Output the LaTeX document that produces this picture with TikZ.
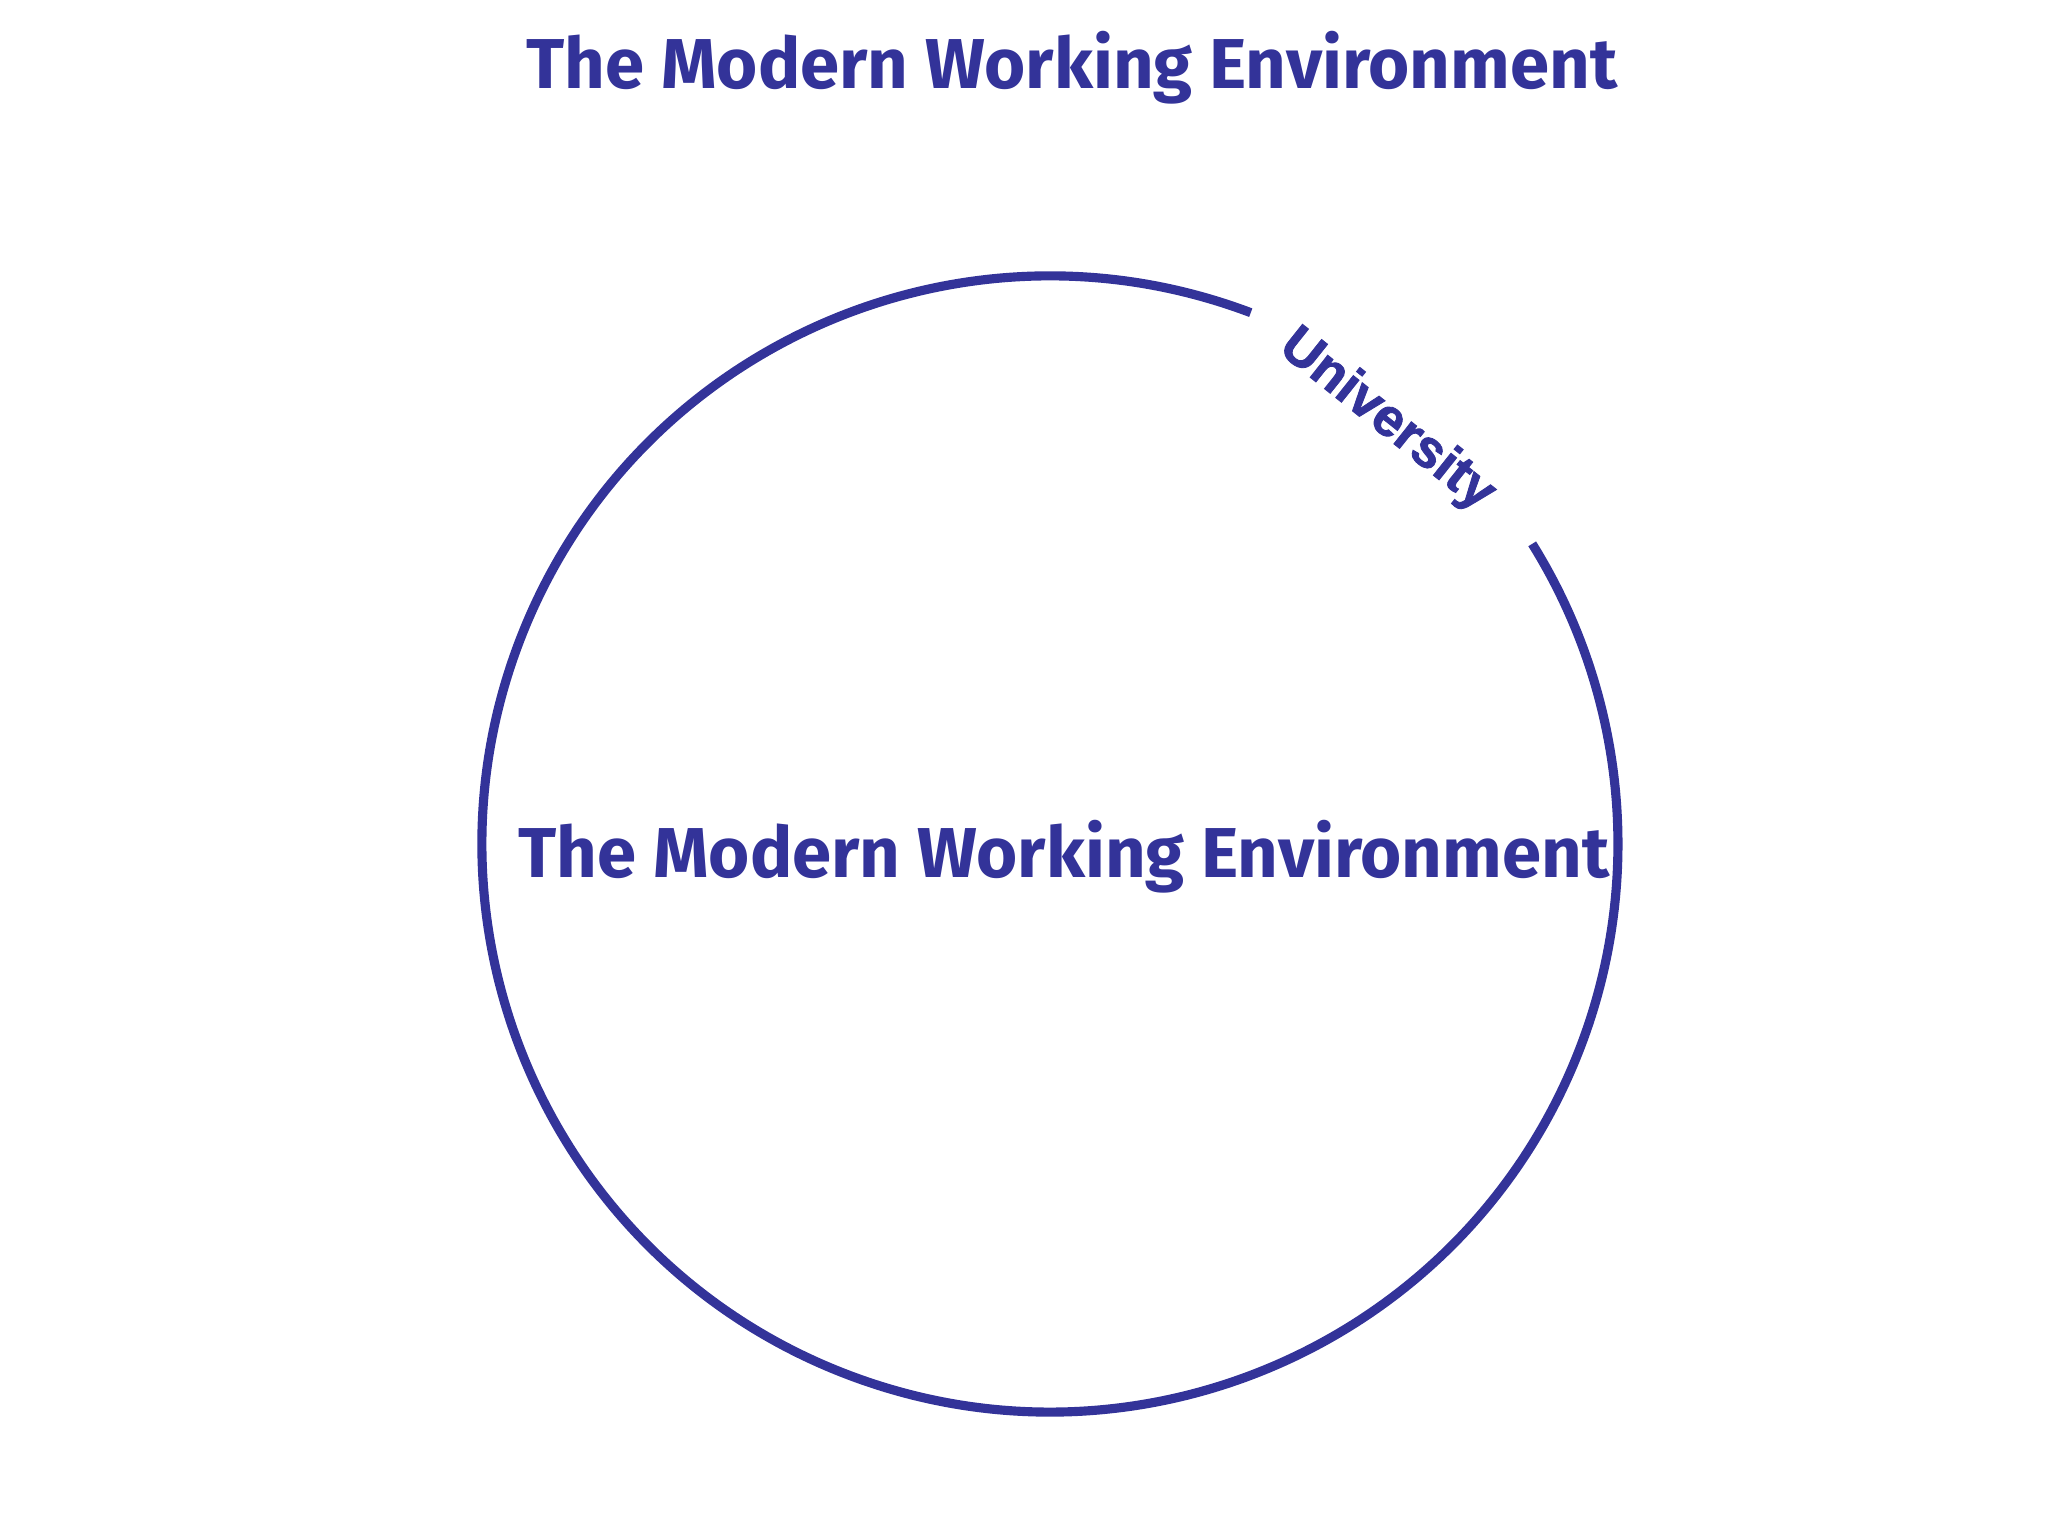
\documentclass[tikz,border=0pt]{standalone}
\usepackage{fontspec}
\usetikzlibrary{calc}
\setmainfont{Fira Sans}
\newfontfamily\unifont[UprightFont={* Bold},FakeBold=1.6]{Liberation Sans}
\definecolor{ringblue}{RGB}{51,51,153}
\tikzset{
  ring/.style={draw=ringblue,line width=2.6pt},
  headline/.style={text=ringblue,font=\fontsize{20.1}{23}\selectfont\bfseries,anchor=base,inner sep=0pt},
  arclabel/.style={text=ringblue,font=\unifont\bfseries\fontsize{15.2}{17}\selectfont,inner sep=0pt}
}
\begin{document}
\begin{tikzpicture}
\useasboundingbox (0,0) rectangle (20.48,15.36);
\coordinate (centre) at (10.50,6.92);
% the ring, open where the label sits
\draw [ring] ($(centre)+(69.3:5.68)$) arc (69.3:391.9:5.68);
\node [arclabel,rotate=-38.5] (univ) at ($(centre)+(51.5:5.41)$) {University};
\node [headline] (title) at (10.72,14.47) {The Modern Working Environment};
\node [headline] (inner) at (10.64,6.58) {The Modern Working Environment};
\end{tikzpicture}
\end{document}
